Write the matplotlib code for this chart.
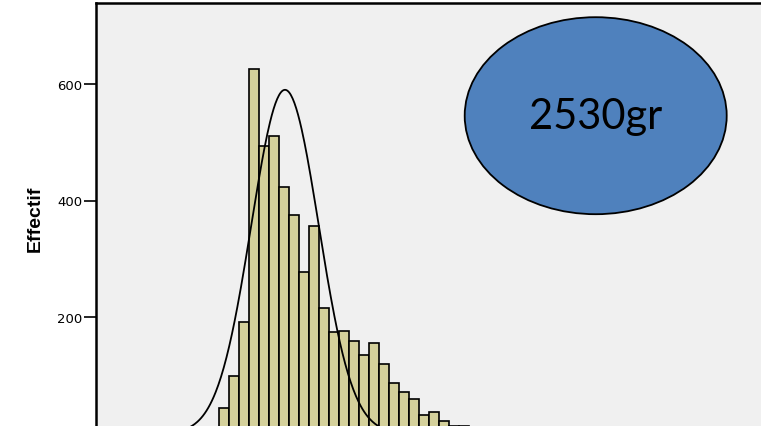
import numpy as np
import matplotlib.pyplot as plt
from matplotlib.patches import Ellipse

# Histogram counts per bin (bin width = 1 unit, first bin starts at 0)
counts = [43, 99, 192, 626, 494, 511, 424, 375, 277, 357, 216, 175, 176,
          159, 134, 155, 120, 86, 72, 60, 31, 37, 22, 13, 13, 9, 6, 4, 3, 2, 1]
bin_width = 1.0
bin_start = 0.0

# Normal curve parameters
curve_mean = 6.57
curve_sd = 3.37
curve_n = 4984

yticks = [200, 400, 600]
ylabel = "Effectif"
bubble_text = "2530gr"

W, H = 761, 427
fig = plt.figure(figsize=(W / 100, H / 100), dpi=100)
fig.patch.set_facecolor("white")

# axes box in pixels: left 96, top 4, y=0 at 434.5 (below the figure edge)
x0_px, top_px, base_px, right_px = 96, 4, 434.5, 820
ax = fig.add_axes([x0_px / W, (H - base_px) / H,
                   (right_px - x0_px) / W, (base_px - top_px) / H])
ax.set_facecolor("#f0f0f0")

px_per_unit = 116.5 / 200
ax.set_ylim(0, (base_px - top_px) / px_per_unit)
# first bar left edge sits at x = 219.3 px, 10 px per bin
px_per_bin = 10.0
ax.set_xlim(bin_start - (219.3 - x0_px) / px_per_bin,
            bin_start + (right_px - 219.3) / px_per_bin)

edges = bin_start + bin_width * np.arange(len(counts))
ax.bar(edges, counts, width=bin_width, align="edge",
       color="#d4d09b", edgecolor="black", linewidth=1.2, zorder=2)

xs = np.linspace(ax.get_xlim()[0], ax.get_xlim()[1], 800)
ys = curve_n * bin_width / (curve_sd * np.sqrt(2 * np.pi)) * \
    np.exp(-0.5 * ((xs - curve_mean) / curve_sd) ** 2)
ax.plot(xs, ys, color="black", linewidth=1.3, zorder=3)

ax.set_yticks(yticks)
ax.set_yticklabels([str(t) for t in yticks], fontsize=9.5,
                   family="DejaVu Sans")
ax.tick_params(axis="y", direction="out", length=8.6, width=1.2, pad=1)
ax.set_xticks([])
ax.set_ylabel(ylabel, fontsize=14, fontweight="bold",
              family=["Liberation Sans Narrow", "Liberation Sans"], labelpad=10)

for side in ["left", "top"]:
    ax.spines[side].set_linewidth(1.8)
ax.spines["right"].set_visible(False)

# blue bubble with the weight label
cx, cy, ew, eh = 595.7, 116.7, 262, 197
fig.add_artist(Ellipse((cx / W, 1 - cy / H), ew / W, eh / H,
                       transform=fig.transFigure, facecolor="#4f81bd",
                       edgecolor="black", linewidth=1.3, zorder=5))
fig.text(cx / W, 1 - cy / H, bubble_text, ha="center", va="center",
         fontsize=30, family="Lato", color="black", zorder=6)

fig.savefig("out.png", dpi=100)
